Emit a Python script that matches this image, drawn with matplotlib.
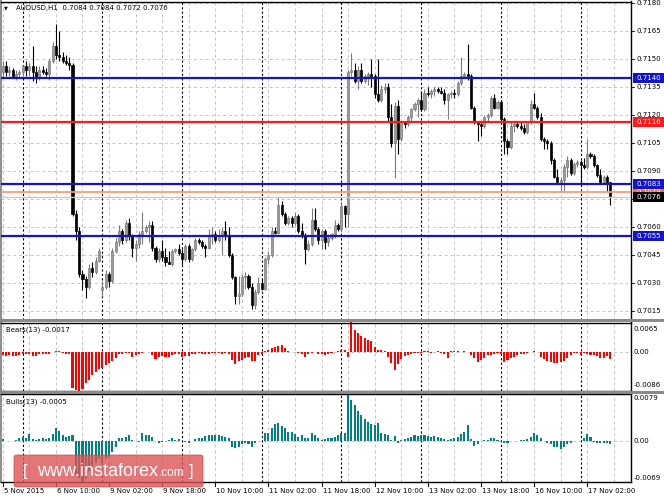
import matplotlib
matplotlib.use('Agg')
import matplotlib.pyplot as plt
import matplotlib.transforms as mtransforms
from matplotlib.patches import Rectangle, FancyBboxPatch
import numpy as np

# ---------------- data (AUDUSD H1, bar 0 = 5 Nov 18:00) ----------------
open_ = [0.7143, 0.7146, 0.7143, 0.7144, 0.7141, 0.7142, 0.7143, 0.7146, 0.7144, 0.7146,
         0.7143, 0.7140, 0.7144, 0.7143, 0.7142, 0.7149, 0.7157, 0.7152, 0.7151, 0.7149,
         0.7148, 0.7147, 0.7067, 0.7058, 0.7035, 0.7032, 0.7028, 0.7038, 0.7036, 0.7042,
         0.7026, 0.7028, 0.7035, 0.7031, 0.7047, 0.7052, 0.7058, 0.7053, 0.7062, 0.7055,
         0.7049, 0.7051, 0.7056, 0.7058, 0.7060, 0.7061, 0.7049, 0.7043, 0.7047, 0.7044,
         0.7041, 0.7040, 0.7047, 0.7048, 0.7046, 0.7043, 0.7050, 0.7043, 0.7048, 0.7053,
         0.7052, 0.7050, 0.7049, 0.7055, 0.7056, 0.7053, 0.7055, 0.7058, 0.7055, 0.7045,
         0.7033, 0.7023, 0.7024, 0.7033, 0.7034, 0.7028, 0.7018, 0.7025, 0.7030, 0.7027,
         0.7043, 0.7045, 0.7058, 0.7057, 0.7072, 0.7067, 0.7062, 0.7065, 0.7062, 0.7066,
         0.7058, 0.7055, 0.7048, 0.7051, 0.7064, 0.7059, 0.7053, 0.7058, 0.7052, 0.7054,
         0.7056, 0.7061, 0.7059, 0.7071, 0.7067, 0.7143, 0.7144, 0.7138, 0.7144, 0.7138,
         0.7141, 0.7142, 0.7141, 0.7131, 0.7128, 0.7134, 0.7135, 0.7119, 0.7105, 0.7125,
         0.7107, 0.7116, 0.7115, 0.7119, 0.7123, 0.7126, 0.7128, 0.7123, 0.7132, 0.7131,
         0.7133, 0.7134, 0.7133, 0.7132, 0.7128, 0.7131, 0.7132, 0.7131, 0.7137, 0.7141,
         0.7142, 0.7141, 0.7124, 0.7116, 0.7115, 0.7114, 0.7119, 0.7120, 0.7129, 0.7124,
         0.7127, 0.7118, 0.7106, 0.7103, 0.7114, 0.7115, 0.7114, 0.7113, 0.7111, 0.7116,
         0.7126, 0.7124, 0.7119, 0.7107, 0.7106, 0.7105, 0.7096, 0.7087, 0.7084, 0.7085,
         0.7092, 0.7096, 0.7089, 0.7094, 0.7095, 0.7093, 0.7092, 0.7099, 0.7098, 0.7093,
         0.7088, 0.7084, 0.7087, 0.7084]
high_ = [0.7149, 0.7149, 0.7146, 0.7145, 0.7144, 0.7144, 0.7147, 0.7149, 0.7148, 0.7157,
         0.7146, 0.7146, 0.7146, 0.7145, 0.7150, 0.7159, 0.7169, 0.7165, 0.7154, 0.7152,
         0.7151, 0.7148, 0.7069, 0.7060, 0.7037, 0.7034, 0.7040, 0.7041, 0.7044, 0.7049,
         0.7031, 0.7037, 0.7036, 0.7049, 0.7054, 0.7061, 0.7059, 0.7064, 0.7065, 0.7056,
         0.7053, 0.7058, 0.7068, 0.7061, 0.7063, 0.7063, 0.7050, 0.7049, 0.7053, 0.7049,
         0.7047, 0.7048, 0.7049, 0.7051, 0.7048, 0.7051, 0.7051, 0.7049, 0.7054, 0.7054,
         0.7053, 0.7051, 0.7059, 0.7060, 0.7058, 0.7059, 0.7060, 0.7063, 0.7060, 0.7046,
         0.7034, 0.7034, 0.7035, 0.7036, 0.7035, 0.7030, 0.7027, 0.7033, 0.7032, 0.7044,
         0.7047, 0.7060, 0.7060, 0.7076, 0.7074, 0.7068, 0.7066, 0.7066, 0.7068, 0.7067,
         0.7062, 0.7057, 0.7053, 0.7070, 0.7070, 0.7060, 0.7059, 0.7059, 0.7056, 0.7057,
         0.7064, 0.7062, 0.7073, 0.7072, 0.7144, 0.7153, 0.7148, 0.7146, 0.7148, 0.7142,
         0.7143, 0.7150, 0.7142, 0.7150, 0.7136, 0.7137, 0.7137, 0.7126, 0.7127, 0.7128,
         0.7117, 0.7117, 0.7120, 0.7124, 0.7127, 0.7129, 0.7133, 0.7134, 0.7135, 0.7134,
         0.7135, 0.7135, 0.7135, 0.7134, 0.7132, 0.7133, 0.7134, 0.7138, 0.7151, 0.7143,
         0.7158, 0.7142, 0.7125, 0.7117, 0.7116, 0.7120, 0.7121, 0.7130, 0.7131, 0.7128,
         0.7128, 0.7119, 0.7107, 0.7116, 0.7116, 0.7116, 0.7116, 0.7115, 0.7117, 0.7128,
         0.7132, 0.7125, 0.7121, 0.7108, 0.7107, 0.7106, 0.7097, 0.7091, 0.7087, 0.7094,
         0.7098, 0.7097, 0.7095, 0.7096, 0.7096, 0.7097, 0.7107, 0.7100, 0.7099, 0.7094,
         0.7091, 0.7088, 0.7088, 0.7084]
low_ = [0.7140, 0.7141, 0.7141, 0.7140, 0.7139, 0.7140, 0.7141, 0.7141, 0.7141, 0.7138,
        0.7137, 0.7139, 0.7142, 0.7141, 0.7139, 0.7148, 0.7150, 0.7149, 0.7148, 0.7147,
        0.7144, 0.7066, 0.7053, 0.7033, 0.7026, 0.7022, 0.7027, 0.7033, 0.7035, 0.7041,
        0.7023, 0.7027, 0.7028, 0.7030, 0.7046, 0.7050, 0.7051, 0.7052, 0.7053, 0.7044,
        0.7042, 0.7049, 0.7051, 0.7057, 0.7052, 0.7047, 0.7041, 0.7041, 0.7042, 0.7039,
        0.7040, 0.7039, 0.7046, 0.7045, 0.7039, 0.7042, 0.7041, 0.7042, 0.7047, 0.7051,
        0.7049, 0.7044, 0.7048, 0.7051, 0.7052, 0.7052, 0.7045, 0.7053, 0.7044, 0.7032,
        0.7019, 0.7019, 0.7023, 0.7027, 0.7027, 0.7016, 0.7016, 0.7024, 0.7026, 0.7026,
        0.7040, 0.7044, 0.7056, 0.7056, 0.7066, 0.7061, 0.7061, 0.7060, 0.7061, 0.7057,
        0.7054, 0.7040, 0.7047, 0.7050, 0.7058, 0.7051, 0.7048, 0.7048, 0.7050, 0.7053,
        0.7054, 0.7058, 0.7058, 0.7060, 0.7060, 0.7141, 0.7137, 0.7134, 0.7137, 0.7137,
        0.7136, 0.7135, 0.7129, 0.7127, 0.7127, 0.7132, 0.7117, 0.7103, 0.7086, 0.7099,
        0.7106, 0.7113, 0.7114, 0.7117, 0.7122, 0.7119, 0.7122, 0.7122, 0.7130, 0.7129,
        0.7130, 0.7132, 0.7131, 0.7126, 0.7118, 0.7129, 0.7129, 0.7130, 0.7136, 0.7140,
        0.7139, 0.7123, 0.7115, 0.7106, 0.7109, 0.7113, 0.7117, 0.7119, 0.7123, 0.7123,
        0.7116, 0.7099, 0.7099, 0.7102, 0.7111, 0.7113, 0.7112, 0.7110, 0.7110, 0.7115,
        0.7123, 0.7118, 0.7106, 0.7102, 0.7102, 0.7094, 0.7086, 0.7083, 0.7079, 0.7079,
        0.7087, 0.7088, 0.7088, 0.7092, 0.7083, 0.7091, 0.7091, 0.7097, 0.7092, 0.7087,
        0.7083, 0.7083, 0.7079, 0.7072]
close_ = [0.7146, 0.7143, 0.7144, 0.7141, 0.7142, 0.7143, 0.7146, 0.7144, 0.7146, 0.7143,
          0.7140, 0.7144, 0.7143, 0.7142, 0.7149, 0.7157, 0.7152, 0.7151, 0.7149, 0.7148,
          0.7147, 0.7067, 0.7058, 0.7035, 0.7032, 0.7028, 0.7038, 0.7036, 0.7042, 0.7047,
          0.7028, 0.7035, 0.7031, 0.7047, 0.7052, 0.7058, 0.7053, 0.7062, 0.7055, 0.7049,
          0.7051, 0.7056, 0.7058, 0.7060, 0.7061, 0.7049, 0.7043, 0.7047, 0.7044, 0.7041,
          0.7040, 0.7047, 0.7048, 0.7046, 0.7043, 0.7050, 0.7043, 0.7048, 0.7053, 0.7052,
          0.7050, 0.7049, 0.7055, 0.7056, 0.7053, 0.7055, 0.7058, 0.7055, 0.7045, 0.7033,
          0.7023, 0.7024, 0.7033, 0.7034, 0.7028, 0.7018, 0.7025, 0.7030, 0.7027, 0.7043,
          0.7045, 0.7058, 0.7057, 0.7072, 0.7067, 0.7062, 0.7065, 0.7062, 0.7066, 0.7058,
          0.7055, 0.7048, 0.7051, 0.7064, 0.7059, 0.7053, 0.7058, 0.7052, 0.7054, 0.7056,
          0.7061, 0.7059, 0.7071, 0.7067, 0.7143, 0.7144, 0.7138, 0.7144, 0.7138, 0.7141,
          0.7142, 0.7141, 0.7131, 0.7128, 0.7134, 0.7135, 0.7119, 0.7105, 0.7125, 0.7107,
          0.7116, 0.7115, 0.7119, 0.7123, 0.7126, 0.7128, 0.7123, 0.7132, 0.7131, 0.7133,
          0.7134, 0.7133, 0.7132, 0.7128, 0.7131, 0.7132, 0.7131, 0.7137, 0.7141, 0.7142,
          0.7141, 0.7124, 0.7116, 0.7115, 0.7114, 0.7119, 0.7120, 0.7129, 0.7124, 0.7127,
          0.7118, 0.7106, 0.7103, 0.7114, 0.7115, 0.7114, 0.7113, 0.7111, 0.7116, 0.7126,
          0.7124, 0.7119, 0.7107, 0.7106, 0.7105, 0.7096, 0.7087, 0.7084, 0.7085, 0.7092,
          0.7096, 0.7089, 0.7094, 0.7095, 0.7093, 0.7092, 0.7099, 0.7098, 0.7093, 0.7088,
          0.7084, 0.7087, 0.7084, 0.7076]

bears = [-0.0008, -0.0009, -0.0008, -0.0010, -0.0010, -0.0008, -0.0004, -0.0006, -0.0004, -0.0009,
         -0.0010, -0.0005, -0.0004, -0.0005, -0.0006, -0.0001, 0.0002, 0.0001, -0.0002, -0.0004,
         -0.0006,
         -0.0080, -0.0084, -0.0086, -0.0083, -0.0070, -0.0062, -0.0051, -0.0044, -0.0038, -0.0036,
         -0.0029, -0.0025, -0.0020, -0.0014,
         -0.0005, -0.0006, -0.0003, -0.0002, -0.0012, -0.0008, -0.0005, -0.0003, -0.0001, -0.0001,
         -0.0008, -0.0015, -0.0012, -0.0010,
         -0.0012, -0.0011, -0.0007, -0.0005, -0.0004, -0.0012, -0.0009, -0.0010, -0.0006, -0.0004,
         -0.0003, -0.0004, -0.0006, -0.0004, -0.0002, -0.0003, -0.0002,
         -0.0004, -0.0003, -0.0006, -0.0018, -0.0028, -0.0020, -0.0019, -0.0014, -0.0012, -0.0020,
         -0.0021, -0.0008, -0.0005,
         0.0002, 0.0003, 0.0008, 0.0010, 0.0013, 0.0016, 0.0009, 0.0002,
         0.0000, -0.0001, -0.0002, -0.0004, -0.0012, -0.0006, -0.0002, 0.0000, -0.0004, -0.0006,
         -0.0008, -0.0005, -0.0002, 0.0000, 0.0002, 0.0003, 0.0003,
         -0.0012, 0.0065, 0.0048, 0.0041, 0.0034, 0.0030, 0.0027, 0.0024, 0.0010, 0.0005,
         0.0004, 0.0002,
         -0.0012, -0.0026, -0.0040, -0.0028, -0.0016, -0.0010, -0.0008, -0.0005, -0.0003, -0.0002,
         -0.0002,
         0.0001, 0.0002, -0.0002, 0.0000, 0.0002,
         -0.0002, -0.0005, -0.0014, 0.0001, 0.0002, 0.0001, 0.0000, 0.0001, -0.0001,
         -0.0007, -0.0013, -0.0022, -0.0018, -0.0013, -0.0008, -0.0007, -0.0004, -0.0002, -0.0005,
         -0.0022, -0.0018, -0.0013, -0.0011, -0.0007, -0.0005, -0.0004, -0.0002, 0.0000, 0.0001,
         0.0000,
         -0.0011, -0.0016, -0.0020, -0.0023, -0.0025, -0.0025, -0.0023, -0.0020, -0.0014, -0.0007,
         -0.0003, -0.0002,
         -0.0007, -0.0003, -0.0005, -0.0007, -0.0008, -0.0010, -0.0013, -0.0013, -0.0010, -0.0017]

bulls = [0.0003, 0.0000, -0.0001, 0.0000, 0.0002, 0.0004, 0.0007, 0.0004, 0.0011, 0.0003,
         0.0002, 0.0003, 0.0004, 0.0003, 0.0004, 0.0012, 0.0021, 0.0016, 0.0010, 0.0007,
         0.0008,
         0.0010, -0.0058, -0.0062, -0.0069, -0.0064, -0.0050, -0.0045, -0.0038, -0.0030, -0.0040,
         -0.0030, -0.0028, -0.0018, -0.0010,
         0.0004, 0.0004, 0.0007, 0.0009, 0.0002, 0.0000, -0.0002, 0.0013, 0.0010, 0.0009,
         0.0006, 0.0000, -0.0004, -0.0002,
         0.0000, 0.0002, 0.0004, 0.0002, 0.0003, 0.0000, -0.0002, -0.0003, 0.0000, 0.0003,
         0.0004, 0.0005, 0.0008, 0.0009, 0.0009, 0.0009, 0.0009,
         0.0008, 0.0007, 0.0005, -0.0010, -0.0012, -0.0010, -0.0006, -0.0004, -0.0006, -0.0010,
         -0.0004, -0.0001, 0.0000,
         0.0013, 0.0013, 0.0022, 0.0028, 0.0030, 0.0024, 0.0021, 0.0014,
         0.0014, 0.0011, 0.0007, 0.0009, 0.0005, 0.0004, 0.0013, 0.0009, 0.0004, 0.0002,
         0.0003, 0.0004, 0.0004, 0.0007, 0.0009, 0.0013, 0.0013,
         0.0079, 0.0068, 0.0059, 0.0050, 0.0043, 0.0037, 0.0031, 0.0028, 0.0026, 0.0030,
         0.0013, 0.0012,
         0.0010, 0.0001, 0.0008, -0.0003, 0.0001, 0.0003, 0.0005, 0.0007, 0.0009, 0.0008,
         0.0010,
         0.0009, 0.0008, 0.0007, 0.0008, 0.0007,
         0.0005, 0.0003, 0.0001, 0.0003, 0.0005, 0.0006, 0.0012, 0.0015, 0.0026,
         0.0003, -0.0009, -0.0006, -0.0001, 0.0001, 0.0002, 0.0004, 0.0004, 0.0001, -0.0002,
         -0.0004, -0.0003, 0.0000, 0.0000, 0.0000, 0.0001, 0.0001, 0.0003, 0.0007, 0.0013,
         0.0009,
         0.0004, 0.0000, -0.0004, -0.0006, -0.0010, -0.0011, -0.0013, -0.0010, -0.0005, -0.0004,
         -0.0001, 0.0000,
         0.0000, 0.0005, 0.0012, 0.0006, -0.0002, -0.0004, -0.0004, -0.0004, -0.0004, -0.0005]

price_ticks = [0.7180, 0.7165, 0.7150, 0.7135, 0.7120, 0.7105, 0.7090, 0.7075, 0.7060,
               0.7045, 0.7030, 0.7015]
hidden_tick = 0.7075   # covered by the bid label in the reference
date_labels = ["5 Nov 2015", "6 Nov 10:00", "9 Nov 02:00", "9 Nov 18:00", "10 Nov 10:00",
               "11 Nov 02:00", "11 Nov 18:00", "12 Nov 10:00", "13 Nov 02:00", "13 Nov 18:00",
               "16 Nov 10:00", "17 Nov 02:00"]
date_label_bars = [0, 16, 32, 48, 64, 80, 96, 112, 128, 144, 160, 176]
day_separator_bars = [6, 30, 54, 78, 102, 126, 150, 174]
levels = [(0.7140, 'blue'), (0.7116, 'red'), (0.7083, 'blue'), (0.7055, 'blue')]
orange_level = 0.7079
bid_price = 0.7076
title_text = "AUDUSD,H1  0.7084 0.7084 0.7072 0.7076"
bears_title = "Bears(13) -0.0017"
bulls_title = "Bulls(13) -0.0005"

# ---------------- layout ----------------
W, H = 664, 498
fig = plt.figure(figsize=(W / 100, H / 100), dpi=100)
fig.patch.set_facecolor('white')


def fax(x0, y0, x1, y1):
    return fig.add_axes([x0 / W, 1 - y1 / H, (x1 - x0) / W, (y1 - y0) / H])


ax = fax(1, 1.5, 631, 319.5)
axb = fax(1, 322.5, 631, 390.5)
axu = fax(1, 393.5, 631, 482)

n = len(close_)
x = np.arange(n)
o = np.array(open_)
c = np.array(close_)
h = np.array(high_)
l = np.array(low_)

XL = (-0.54, 189.2)
PPU = 308 / 0.0165  # px per price unit
ax.set_ylim(0.7180 - 316.5 / PPU, 0.7180 + 1.5 / PPU)
axb.set_ylim(-0.0086, 0.0065)
axu.set_ylim(-0.0069, 0.0079)

BLUE = '#1414c8'
RED = '#ff1a1a'
GRID = '#c4c4c4'
for a in (ax, axb, axu):
    a.set_xlim(*XL)
    a.set_facecolor('white')
    a.set_xticks([])
    a.set_yticks([])
    for s in ('top', 'right', 'bottom'):
        a.spines[s].set_color('black')
        a.spines[s].set_linewidth(1.0)
    a.spines['left'].set_color('#909090')
    a.spines['left'].set_linewidth(1.5)
    for k in range(0, 24):
        a.axvline(8 * k, color=GRID, lw=0.7, ls=(0, (3, 3)), zorder=0)
    for b in day_separator_bars:
        a.axvline(b, color='black', lw=0.8, ls=(0, (2, 2)), zorder=0.5)

# separators between panels
fig.patches.append(Rectangle((0, 1 - 322.5 / H), 1, 3 / H, transform=fig.transFigure,
                             facecolor='#8a8a8a', edgecolor='none', zorder=3))
fig.patches.append(Rectangle((0, 1 - 393.5 / H), 1, 3 / H, transform=fig.transFigure,
                             facecolor='#8a8a8a', edgecolor='none', zorder=3))

# price grid
for p in price_ticks:
    ax.axhline(p, color=GRID, lw=0.7, ls=(0, (3, 3)), zorder=0)
axb.axhline(0, color=GRID, lw=0.7, ls=(0, (3, 3)), zorder=0)
axu.axhline(0, color=GRID, lw=0.7, ls=(0, (3, 3)), zorder=0)

# candles
up = c >= o
dn = ~up
BULL_F, BULL_E = '#9c9c9c', '#7a7a7a'
ax.vlines(x[up], l[up], h[up], color=BULL_E, lw=0.8, zorder=2)
ax.vlines(x[dn], l[dn], h[dn], color='black', lw=0.8, zorder=2)
ax.bar(x[up], np.maximum(c[up] - o[up], 0.00002), bottom=o[up], width=0.62,
       color=BULL_F, edgecolor=BULL_E, linewidth=0.5, zorder=3)
ax.bar(x[dn], np.maximum(o[dn] - c[dn], 0.00002), bottom=c[dn], width=0.62,
       color='black', edgecolor='black', linewidth=0.5, zorder=3)

# levels
ax.axhline(bid_price, color='#c8c8c8', lw=1.0, zorder=4)
ax.axhline(orange_level, color='#ff9a70', lw=1.3, zorder=4)
for p, col in levels:
    ax.axhline(p, color=BLUE if col == 'blue' else RED, lw=1.6, zorder=5)

# indicator histograms
axb.bar(x, bears, width=0.62, color='#ff0000', zorder=2)
axu.bar(x, bulls, width=0.62, color='#008080', zorder=2)

# ---------------- right scale ----------------
tr = mtransforms.blended_transform_factory(ax.transAxes, ax.transData)
FS = 5
for p in price_ticks:
    ax.plot([1.0, 1.004], [p, p], transform=tr, color='black', lw=0.6, clip_on=False)
    if p == hidden_tick:
        continue
    ax.text(1.008, p, f"{p:.4f}", transform=tr, fontsize=FS, va='center', ha='left',
            color='black', clip_on=False, zorder=6)

bx0 = 2.0 / 630 + 1.0
bw = 33 / 630
bh = 10 / PPU


def label_box(p, fc, txt_col='white', z=7):
    ax.add_patch(Rectangle((bx0, p - bh / 2), bw, bh, transform=tr, facecolor=fc,
                           edgecolor='none', clip_on=False, zorder=z))
    ax.text(1.008, p, f"{p:.4f}", transform=tr, fontsize=FS, va='center', ha='left',
            color=txt_col, clip_on=False, zorder=z + 0.5)


label_box(orange_level, '#ff6a20', z=7)
for p, col in levels:
    label_box(p, BLUE if col == 'blue' else RED, z=8)
label_box(bid_price, 'black', z=9)


def ftext(xp, yp, s, **kw):
    fig.text(xp / W, 1 - yp / H, s, **kw)


for s, yp in (("0.0065", 329), ("0.00", 352), ("-0.0086", 385),
              ("0.0079", 398), ("0.00", 441), ("-0.0069", 478)):
    ftext(634, yp, s, fontsize=FS, va='center', ha='left', color='black')

# ---------------- titles ----------------
ftext(4, 8, "\u25bc", fontsize=3.5, va='center', ha='left', color='black')
ftext(16, 8, title_text, fontsize=FS, va='center', ha='left', color='black')
ftext(6, 330, bears_title, fontsize=FS, va='center', ha='left', color='black')
ftext(6, 402, bulls_title, fontsize=FS, va='center', ha='left', color='black')

# ---------------- date axis ----------------
trx = mtransforms.blended_transform_factory(axu.transData, axu.transAxes)
for b, s in zip(date_label_bars, date_labels):
    axu.plot([b, b], [0, -4 / 88.5], transform=trx, color='black', lw=0.7, clip_on=False)
    axu.text(b + 0.3, -9 / 88.5, s, transform=trx, fontsize=FS, va='center', ha='left',
             color='black', clip_on=False)

# ---------------- watermark ----------------
wm = FancyBboxPatch((14 / W, 1 - 487 / H), 189 / W, 32 / H, transform=fig.transFigure,
                    boxstyle='round,pad=0,rounding_size=0.004', facecolor='#dc5454',
                    edgecolor='#c84848', linewidth=0.6, alpha=0.8, zorder=10)
fig.patches.append(wm)
ftext(23, 476, "[", fontsize=12, va='baseline', ha='left', color='white',
      family='Liberation Sans', zorder=11)
ftext(37, 476, "www.instaforex", fontsize=13, va='baseline', ha='left', color='white',
      family='Liberation Sans', zorder=11)
ftext(159, 476, ".com", fontsize=8.5, va='baseline', ha='left', color='white',
      family='Liberation Sans', zorder=11)
ftext(189, 476, "]", fontsize=12, va='baseline', ha='left', color='white',
      family='Liberation Sans', zorder=11)

fig.savefig('out.png', dpi=100, facecolor='white')
